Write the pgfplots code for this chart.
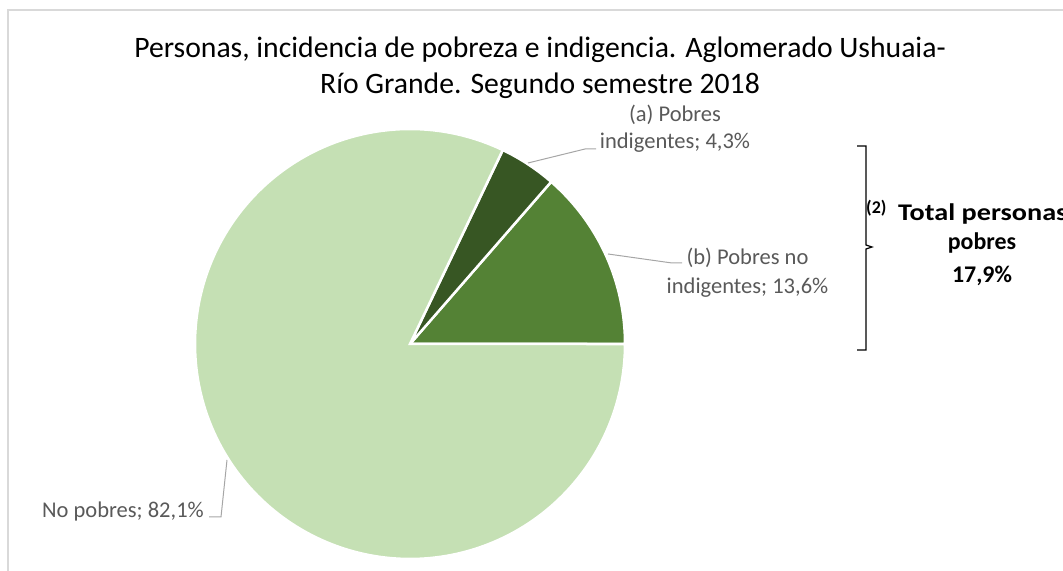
\documentclass[border=0pt]{standalone}
\usepackage{pgfplots}
\pgfplotsset{compat=1.18}
\usepackage{fontspec}
\setmainfont{Carlito}
\definecolor{noPob}{HTML}{C5E0B4}
\definecolor{pobNo}{HTML}{548235}
\definecolor{pobInd}{HTML}{375623}
\definecolor{lbl}{HTML}{595959}
\definecolor{lead}{HTML}{A6A6A6}
\definecolor{frame}{HTML}{D9D9D9}
% data (percent)
\def\vInd{4.3}
\def\vNoInd{13.6}
\def\vNo{82.1}
\pgfmathsetmacro{\aA}{3.6*\vNoInd}
\pgfmathsetmacro{\aB}{\aA+3.6*\vInd}
\pgfmathsetmacro{\aC}{\aB+3.6*\vNo}
\begin{document}
\begin{tikzpicture}[x=1bp,y=1bp]
\path[use as bounding box] (0,0) rectangle (1063,571);
\draw[frame, line width=1.5bp] (8,0) -- (8,561) -- (1063,561);
\begin{axis}[
  at={(410bp,227bp)}, anchor=center,
  x=215bp, y=215bp,
  xmin=-1, xmax=1, ymin=-1, ymax=1,
  hide axis, clip=false,
]
\addplot[fill=pobNo, draw=white, line width=2.5bp, domain=0:\aA, samples=60, variable=\t]
  ({cos(\t)},{sin(\t)}) -- (axis cs:0,0) -- cycle;
\addplot[fill=pobInd, draw=white, line width=2.5bp, domain=\aA:\aB, samples=30, variable=\t]
  ({cos(\t)},{sin(\t)}) -- (axis cs:0,0) -- cycle;
\addplot[fill=noPob, draw=white, line width=2.5bp, domain=\aB:\aC, samples=200, variable=\t]
  ({cos(\t)},{sin(\t)}) -- (axis cs:0,0) -- cycle;
\end{axis}
% title
\node[anchor=base, font=\fontsize{29.8}{36}\selectfont] at (540,513) {Personas, incidencia de pobreza e indigencia. Aglomerado Ushuaia-};
\node[anchor=base, font=\fontsize{29.8}{36}\selectfont] at (540,477) {Río Grande. Segundo semestre 2018};
% leader lines
\draw[lead, line width=1bp] (528,408) -- (585,422) -- (596,422);
\draw[lead, line width=1bp] (608,317) -- (672,308) -- (682,308);
\draw[lead, line width=1bp] (227,111) -- (221,54) -- (209,54);
% data labels
\begin{scope}[every node/.style={font=\fontsize{22.6}{27}\selectfont, text=lbl}]
\node[anchor=base] at (675,449) {(a) Pobres};
\node[anchor=base] at (675,422) {indigentes; 4,3\%};
\node[anchor=base] at (747.5,306) {(b) Pobres no};
\node[anchor=base] at (747.5,277) {indigentes; 13,6\%};
\node[anchor=base east, inner sep=0pt] at (204,53) {No pobres; 82,1\%};
\end{scope}
% brace
\draw[black, line width=1.2bp] (857,425) -- (866,425) -- (866,326) -- (872,324) -- (866,322) -- (866,221) -- (857,221);
% total
\node[anchor=base west, inner sep=0pt, font=\fontsize{18}{18}\selectfont\bfseries] at (866,357) {(2)};
\node[anchor=base west, inner sep=0pt, font=\fontsize{24}{29}\selectfont\bfseries] at (898,350) {\scalebox{1.18}[1]{Total personas}};
\node[anchor=base, font=\fontsize{24}{29}\selectfont\bfseries] at (982,321) {pobres};
\node[anchor=base, font=\fontsize{24}{29}\selectfont\bfseries] at (982,288) {17,9\%};
\end{tikzpicture}
\end{document}
